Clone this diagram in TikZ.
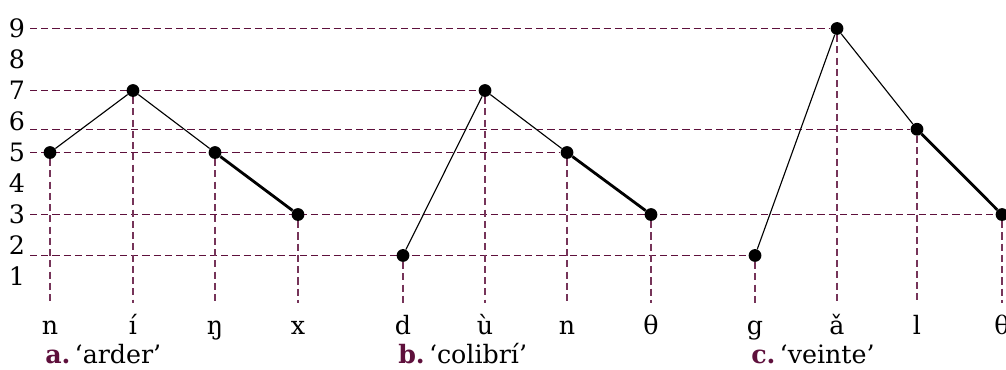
\documentclass[tikz,border=0pt]{standalone}
\usepackage{fontspec}
\setmainfont{DejaVu Serif}
\usetikzlibrary{backgrounds}
\definecolor{plum}{RGB}{94,16,60}
\colorlet{plumlight}{plum!85!white}

\begin{document}
\begin{tikzpicture}[
  x=0.025cm, y=0.775cm,
  font=\fontsize{18}{20}\selectfont,
  dot/.style={circle, fill=black, inner sep=0pt, minimum size=0.32cm},
  guide/.style={draw=plum, dash pattern=on 5pt off 3pt, line width=0.8pt},
  faint/.style={guide, draw=plumlight},
  contour/.style={line width=0.8pt},
  coda/.style={line width=2pt},
  seg/.style={anchor=base},
  tag/.style={anchor=base west, inner sep=0pt}
]
\useasboundingbox (0,-1.98387) rectangle (1006,9.91935);

% pitch levels
\foreach \l in {1,...,9}
  \node (lv\l) at (17,\l) {\l};
\coordinate (h9) at (30,9);
\coordinate (h7) at (30,7);
\coordinate (h6) at (30,5.75);
\coordinate (h5) at (30,5);
\coordinate (h3) at (30,3);
\coordinate (h2) at (30,1.68);
\coordinate (floor) at (0,0.145);

% a. arder
\node[dot] (a1) at (50,5) {};
\node[dot] (a2) at (133,7) {};
\node[dot] (a3) at (215,5) {};
\node[dot] (a4) at (298,3) {};
% b. colibri
\node[dot] (b1) at (403,1.68) {};
\node[dot] (b2) at (485,7) {};
\node[dot] (b3) at (567,5) {};
\node[dot] (b4) at (651,3) {};
% c. veinte
\node[dot] (c1) at (755,1.68) {};
\node[dot] (c2) at (837,9) {};
\node[dot] (c3) at (917,5.75) {};
\node[dot] (c4) at (1002,3) {};

% segments
\node[seg] (sa1) at (50,-0.871) {n};
\node[seg] (sa2) at (133,-0.871) {í};
\node[seg] (sa3) at (215,-0.871) {ŋ};
\node[seg] (sa4) at (298,-0.871) {x};
\node[seg] (sb1) at (403,-0.871) {d};
\node[seg] (sb2) at (485,-0.871) {ù};
\node[seg] (sb3) at (567,-0.871) {n};
\node[seg] (sb4) at (651,-0.871) {θ};
\node[seg] (sc1) at (755,-0.871) {g};
\node[seg] (sc2) at (837,-0.871) {ǎ};
\node[seg] (sc3) at (917,-0.871) {l};
\node[seg] (sc4) at (1002,-0.871) {θ};

\node[tag] (ta) at (45,-1.816) {\textcolor{plum}{\textbf{a.}}\,‘arder’};
\node[tag] (tb) at (398,-1.816) {\textcolor{plum}{\textbf{b.}}\,‘colibrí’};
\node[tag] (tc) at (751,-1.816) {\textcolor{plum}{\textbf{c.}}\,‘veinte’};

\begin{scope}[on background layer]
\draw[guide] (h9) -- (c2);
\draw[guide] (h7) -- (b2);
\draw[guide] (h6) -- (c3);
\draw[guide] (h5) -- (b3);
\draw[guide] (h3) -- (c4);
\draw[guide] (h2) -- (c1);
\foreach \p in {a1,a2,a3,a4,b1,b2,b3,b4,c1,c2,c3,c4}
  \draw[faint] (\p) -- (\p |- floor);
\end{scope}

\draw[contour] (a1) -- (a2) -- (a3);
\draw[coda] (a3) -- (a4);
\draw[contour] (b1) -- (b2) -- (b3);
\draw[coda] (b3) -- (b4);
\draw[contour] (c1) -- (c2) -- (c3);
\draw[coda] (c3) -- (c4);
\end{tikzpicture}
\end{document}
